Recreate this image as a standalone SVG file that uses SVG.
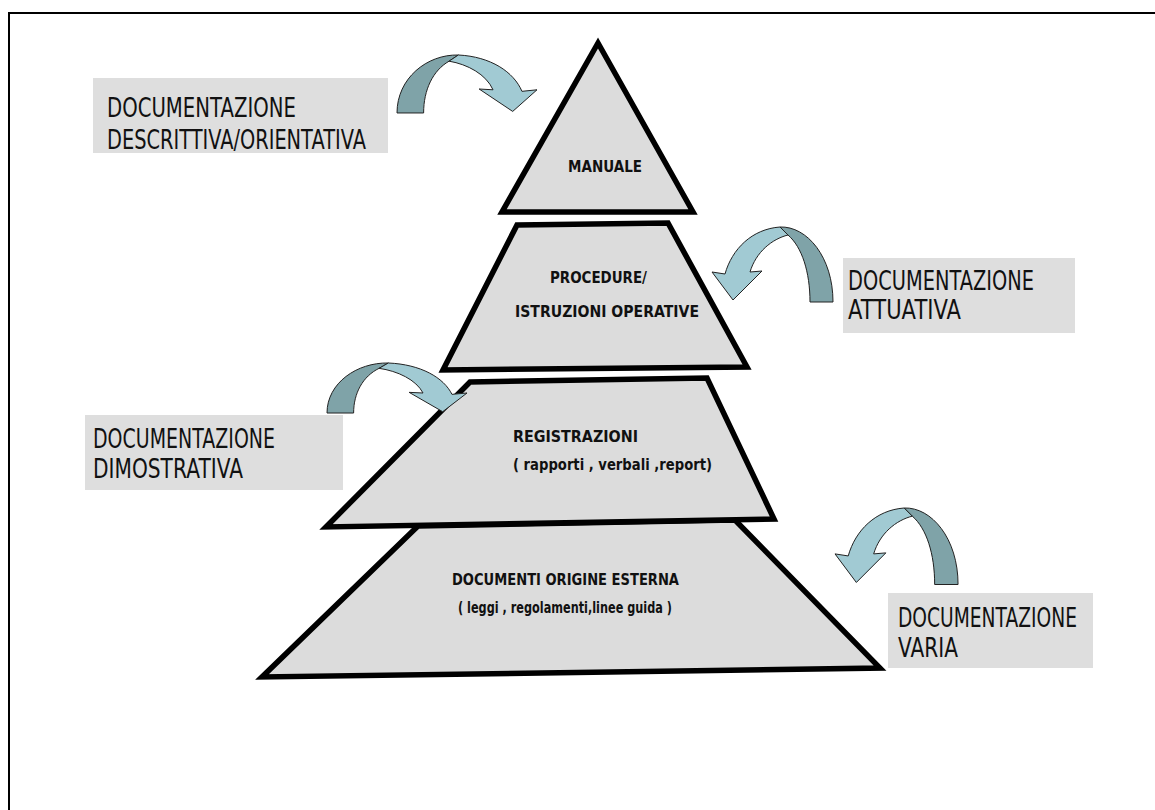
<svg xmlns="http://www.w3.org/2000/svg" xmlns:xlink="http://www.w3.org/1999/xlink" width="1155" height="810" viewBox="0 0 1155 810">
<style>
.lvl{fill:#dcdcdc;stroke:#000;stroke-width:5.5;stroke-linejoin:miter}
.box{fill:#dedede;stroke:none}
.bt{font-family:"DejaVu Sans","Liberation Sans",sans-serif;font-size:27px;fill:#111}
.pt{font-family:"DejaVu Sans","Liberation Sans",sans-serif;font-size:16.5px;font-weight:bold;fill:#111}
.ad{fill:#7fa3a8;stroke:#222;stroke-width:1;vector-effect:non-scaling-stroke}
.al{fill:#a1cad3;stroke:#222;stroke-width:1;vector-effect:non-scaling-stroke}
</style>
<defs>
<g id="carrow">
<path class="ad" d="M68,0 C95,-1 121,30 121,75 L98,75 C98,45 90,20 76,8 Z"/>
<path class="al" d="M13,47 C20,22 40,2 68,0 L76,8 C60,12 44,25 38,45 L50,44 L21,73 L0,45 Z"/>
</g>
</defs>
<rect width="1155" height="810" fill="#fff"/>
<path d="M9,810 V13 H1155" fill="none" stroke="#000" stroke-width="2"/>

<g id="levels">
<g id="lvl4">
<polygon class="lvl" points="418,526 735,520 880,668 262,677"/>
<text class="pt" x="452" y="585" textLength="227" lengthAdjust="spacingAndGlyphs">DOCUMENTI ORIGINE ESTERNA</text>
<text class="pt" x="458" y="613" textLength="214" lengthAdjust="spacingAndGlyphs">( leggi , regolamenti,linee guida )</text>
</g>
<g id="lvl3">
<polygon class="lvl" points="470,382 707,378 774,519 326,527"/>
<text class="pt" x="513" y="442" textLength="125" lengthAdjust="spacingAndGlyphs">REGISTRAZIONI</text>
<text class="pt" x="513" y="470" textLength="199" lengthAdjust="spacingAndGlyphs">( rapporti , verbali ,report)</text>
</g>
<g id="lvl2">
<polygon class="lvl" points="517,225 668,223 747,367 443,370"/>
<text class="pt" x="550" y="283" textLength="97" lengthAdjust="spacingAndGlyphs">PROCEDURE/</text>
<text class="pt" x="515" y="317" textLength="184" lengthAdjust="spacingAndGlyphs">ISTRUZIONI OPERATIVE</text>
</g>
<g id="lvl1">
<polygon class="lvl" points="598,43 502,212 693,212"/>
<text class="pt" x="568" y="172" textLength="74" lengthAdjust="spacingAndGlyphs">MANUALE</text>
</g>
</g>

<g id="label1">
<rect class="box" x="93" y="78" width="295" height="75"/>
<text class="bt" x="107" y="117" textLength="189" lengthAdjust="spacingAndGlyphs">DOCUMENTAZIONE</text>
<text class="bt" x="107" y="149" textLength="259" lengthAdjust="spacingAndGlyphs">DESCRITTIVA/ORIENTATIVA</text>
</g>
<g id="label2">
<rect class="box" x="843" y="258" width="232" height="75"/>
<text class="bt" x="848" y="290" textLength="186" lengthAdjust="spacingAndGlyphs">DOCUMENTAZIONE</text>
<text class="bt" x="848" y="319" textLength="113" lengthAdjust="spacingAndGlyphs">ATTUATIVA</text>
</g>
<g id="label3">
<rect class="box" x="85" y="415" width="258" height="75"/>
<text class="bt" x="93" y="448" textLength="182" lengthAdjust="spacingAndGlyphs">DOCUMENTAZIONE</text>
<text class="bt" x="93" y="478" textLength="150" lengthAdjust="spacingAndGlyphs">DIMOSTRATIVA</text>
</g>
<g id="label4">
<rect class="box" x="888" y="593" width="205" height="75"/>
<text class="bt" x="898" y="627" textLength="179" lengthAdjust="spacingAndGlyphs">DOCUMENTAZIONE</text>
<text class="bt" x="898" y="657" textLength="60" lengthAdjust="spacingAndGlyphs">VARIA</text>
</g>

<g id="connectors">
<use xlink:href="#carrow" transform="translate(537,55) scale(-1.157,0.773)"/>
<use xlink:href="#carrow" transform="translate(712,227)"/>
<use xlink:href="#carrow" transform="translate(467,363) scale(-1.157,0.667)"/>
<use xlink:href="#carrow" transform="translate(835,508) scale(1.017,1.02)"/>
</g>
</svg>
